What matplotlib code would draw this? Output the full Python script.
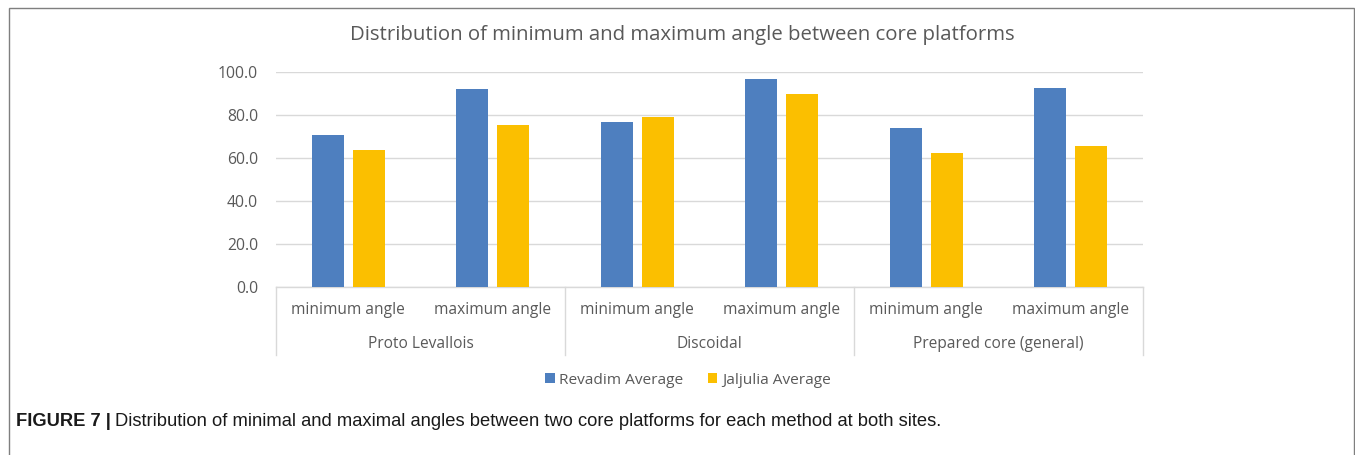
import matplotlib
matplotlib.use("Agg")
import matplotlib.pyplot as plt
import matplotlib.patches as mpatches
import numpy as np

# Data
groups = ["Proto Levallois", "Discoidal", "Prepared core (general)"]
subcats = ["minimum angle", "maximum angle"]
revadim = [70.7, 92.1, 76.7, 96.7, 73.9, 92.7]
jaljulia = [64.0, 75.5, 79.2, 89.8, 62.5, 65.6]
series_names = ["Revadim Average", "Jaljulia Average"]
yticks = [0, 20, 40, 60, 80, 100]

W, H = 1355, 455
fig = plt.figure(figsize=(W / 100, H / 100), dpi=100)
FONT = "Open Sans"
GRAY = "#595959"
GRID = "#D9D9D9"
BLUE = "#4E7FBF"
GOLD = "#FBBF00"

x0, x1 = 276, 1143
y0, y1 = 287.3, 72.0
ax = fig.add_axes([x0 / W, 1 - y0 / H, (x1 - x0) / W, (y0 - y1) / H])

n = len(revadim)
x = np.arange(n)
bw = 0.22
off = 0.141
ax.bar(x - off, revadim, bw, color=BLUE, label=series_names[0], zorder=3)
ax.bar(x + off, jaljulia, bw, color=GOLD, label=series_names[1], zorder=3)

ax.set_xlim(-0.5, n - 0.5)
ax.set_ylim(0, 100)
ax.set_yticks(yticks)
ax.set_yticklabels([f"{v:.1f}" for v in yticks], fontfamily=FONT, fontsize=11.3, color=GRAY)
ax.tick_params(axis="y", length=0, pad=13)
ax.set_xticks([])
for s in ["top", "right", "left"]:
    ax.spines[s].set_visible(False)
ax.spines["bottom"].set_color(GRID)
ax.spines["bottom"].set_linewidth(1.0)
ax.grid(axis="y", color=GRID, linewidth=1.0, zorder=0)
ax.set_axisbelow(True)

ppx = (y0 - y1)
tr = ax.get_xaxis_transform()
for i in range(n):
    ax.text(x[i], -(310 - y0) / ppx, subcats[i % 2], transform=tr, ha="center", va="center",
            fontfamily=FONT, fontsize=11.2, color=GRAY, clip_on=False)
for g, name in enumerate(groups):
    ax.text(2 * g + 0.5, -(344 - y0) / ppx, name, transform=tr, ha="center", va="center",
            fontfamily=FONT, fontsize=11.2, color=GRAY, clip_on=False)
for b in [-0.5, 1.5, 3.5, 5.5]:
    ax.plot([b, b], [0, -(355 - y0) / ppx], transform=tr, color=GRID, lw=1.0, clip_on=False)

fig.text(682 / W, 1 - 35 / H, "Distribution of minimum and maximum angle between core platforms",
         ha="center", va="center", fontfamily=FONT, fontsize=14.7, color=GRAY)

leg = fig.legend(loc="center", bbox_to_anchor=(688 / W, 1 - 380 / H), ncol=2, frameon=False,
                 handlelength=0.6, handleheight=0.6, handletextpad=0.3, columnspacing=1.6,
                 prop={"family": FONT, "size": 11.1})
for t in leg.get_texts():
    t.set_color(GRAY)

fig.patches.append(mpatches.Rectangle((9 / W, -0.1), (1354 - 9) / W, 1.1 - 8 / H,
                                      transform=fig.transFigure, fill=False,
                                      edgecolor="#7F7F7F", linewidth=1.0))

cy = 1 - 421 / H
t1 = fig.text(16 / W, cy, "FIGURE 7 |", fontfamily="Liberation Sans", fontweight="bold",
              fontsize=13.2, color="#1a1a1a", ha="left", va="center")
fig.canvas.draw()
bb = t1.get_window_extent()
fig.text((bb.x1 + 4) / W, cy,
         "Distribution of minimal and maximal angles between two core platforms for each method at both sites.",
         fontfamily="Liberation Sans", fontsize=13.2, color="#1a1a1a", ha="left", va="center")

fig.savefig("out.png", dpi=100)
